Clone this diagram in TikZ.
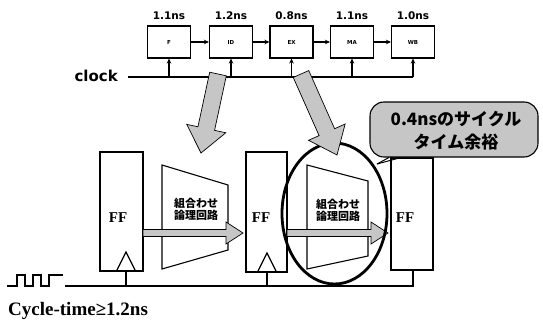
\documentclass[tikz,border=0pt]{standalone}
\usepackage{fontspec}
\setmainfont{Liberation Serif}
\newfontfamily\jpfont{Noto Sans CJK JP}
\newfontfamily\djsans{DejaVu Sans}
\usetikzlibrary{calc,shapes.geometric,arrows.meta}
\newcommand\fatarrow[5]{%
  \coordinate (tmpH) at ($(#2)!#5!(#1)$);
  \draw[garrow] ($(#1)!#3!90:(#2)$) -- ($(tmpH)!#3!90:(#2)$) -- ($(tmpH)!#4!90:(#2)$) -- (#2)
     -- ($(tmpH)!#4!-90:(#2)$) -- ($(tmpH)!#3!-90:(#2)$) -- ($(#1)!#3!-90:(#2)$) -- cycle;}
\tikzset{
  stage/.style={draw, line width=1.1pt, minimum width=43pt, minimum height=32pt, inner sep=0pt,
    font=\djsans\bfseries\fontsize{5.5}{6}\selectfont},
  ffbox/.style={draw, line width=1.1pt, fill=white, inner sep=0pt},
  lat/.style={font=\djsans\bfseries\fontsize{10.5}{12}\selectfont, inner sep=0pt},
  wire/.style={line width=1.1pt},
  clkarrow/.style={wire, -{Stealth[length=5pt,width=4.5pt]}},
  garrow/.style={draw=black, line width=0.7pt, fill=gray!45},
  jptext/.style={font=\jpfont\bfseries\fontsize{11}{12}\selectfont, align=center, inner sep=0pt},
  fftext/.style={font=\bfseries\fontsize{15}{15}\selectfont, inner sep=0pt},
}
\begin{document}
\begin{tikzpicture}[x=1pt,y=-1pt]
\useasboundingbox (0,0) rectangle (543,321);
% ---------- pipeline at top ----------
\node[stage] (F)  at (169,42) {F};
\node[stage] (ID) at (231,42) {ID};
\node[stage] (EX) at (291.5,42) {EX};
\node[stage] (MA) at (352,42) {MA};
\node[stage] (WB) at (413,42) {WB};
\foreach \a/\b in {F/ID,ID/EX,EX/MA,MA/WB}
  \draw[clkarrow] (\a.east) -- (\b.west);
\node[lat] (tF)  at (169,16) {1.1ns};
\node[lat] (tID) at (231,16) {1.2ns};
\node[lat] (tEX) at (291.5,16) {0.8ns};
\node[lat] (tMA) at (352,16) {1.1ns};
\node[lat] (tWB) at (413,16) {1.0ns};
\node[font=\djsans\bfseries\fontsize{15}{16}\selectfont, inner sep=0pt, anchor=east] (clk) at (118,76) {clock};
\coordinate (clkS) at (128,77);
\coordinate (clkE) at (413,77);
\draw[wire] (clkS) -- (clkE);
\foreach \n in {F,ID,EX,MA,WB}
  \draw[clkarrow] (\n.south |- clkS) -- (\n.south);
% ---------- flip-flops ----------
\node[ffbox, minimum width=43pt, minimum height=119pt] (ff1) at (121.5,211.5) {};
\node[ffbox, minimum width=41pt, minimum height=120pt] (ff2) at (266.5,212) {};
\node[ffbox, minimum width=42pt, minimum height=112pt] (ff3) at (412,214) {};
\node[fftext] (ff1t) at (118,218) {FF};
\node[fftext] (ff2t) at (261,218) {FF};
\node[fftext] (ff3t) at (405,218) {FF};
% clock triangles
\draw[line width=1.2pt] (117,270) -- (126,252) -- (135,270);
\draw[line width=1.2pt] (258,271) -- (267,253) -- (276,271);
% ---------- combinational logic ----------
\draw[line width=1.1pt, fill=white] (162,165) -- (228,185) -- (228,250) -- (162,269) -- cycle;
\draw[line width=1.1pt, fill=white] (307,165) -- (368,181) -- (368,256) -- (307,269) -- cycle;
\node[jptext] (c1) at (196,209) {組合わせ\\論理回路};
\node[jptext] (c2) at (338,210) {組合わせ\\論理回路};
% horizontal data arrows
\coordinate (d1s) at (143,233); \coordinate (d1e) at (243,233);
\coordinate (d2s) at (287,233); \coordinate (d2e) at (388,233);
\fatarrow{d1s}{d1e}{3.5pt}{11pt}{17pt}
\fatarrow{d2s}{d2e}{3.5pt}{11pt}{17pt}
% ---------- bottom clock ----------
\coordinate (p0) at (7,286);
\draw[wire] (p0) -- (17,286) -- (17,275) -- (25,275) -- (25,286) -- (33,286) -- (33,275)
   -- (41,275) -- (41,286) -- (49,286) -- (49,275) -- (63,275);
\coordinate (bS) at (65,286);
\coordinate (bE) at (413,286);
\draw[wire] (bS) -- (bE) -- (bE |- ff3.south);
\draw[wire] (ff1.south -| 126,0) -- (126,286);
\draw[wire] (267,272) -- (267,286);
\node[font=\bfseries\fontsize{19}{20}\selectfont, inner sep=0pt, anchor=west] (cyc) at (8,311) {Cycle-time≥1.2ns};
% ---------- highlight ellipse ----------
\node[ellipse, draw, line width=2.8pt, minimum width=105pt, minimum height=141pt, inner sep=0pt] (ell) at (334.5,213.5) {};
% ---------- callout ----------
\node[draw, line width=1.1pt, fill=gray!45, rounded corners=14pt, minimum width=168pt, minimum height=55pt,
      inner sep=0pt] (call) at (454,129.5) {};
\node[font=\jpfont\bfseries\fontsize{17}{23}\selectfont, align=center, inner sep=0pt] (callt) at (456,131)
  {0.4nsのサイクル\\タイム余裕};
\coordinate (tail) at (377,164);
\draw[line width=1pt] (tail) -- (401,157.5);
\draw[line width=1pt] (tail) -- (389,157.5);
% ---------- big gray arrows ----------
\coordinate (g1s) at (218,74); \coordinate (g1e) at (201,153);
\coordinate (g2s) at (301,74); \coordinate (g2e) at (337,155);
\fatarrow{g1s}{g1e}{8.5pt}{20pt}{25pt}
\fatarrow{g2s}{g2e}{8.5pt}{20pt}{25pt}
\end{tikzpicture}
\end{document}
